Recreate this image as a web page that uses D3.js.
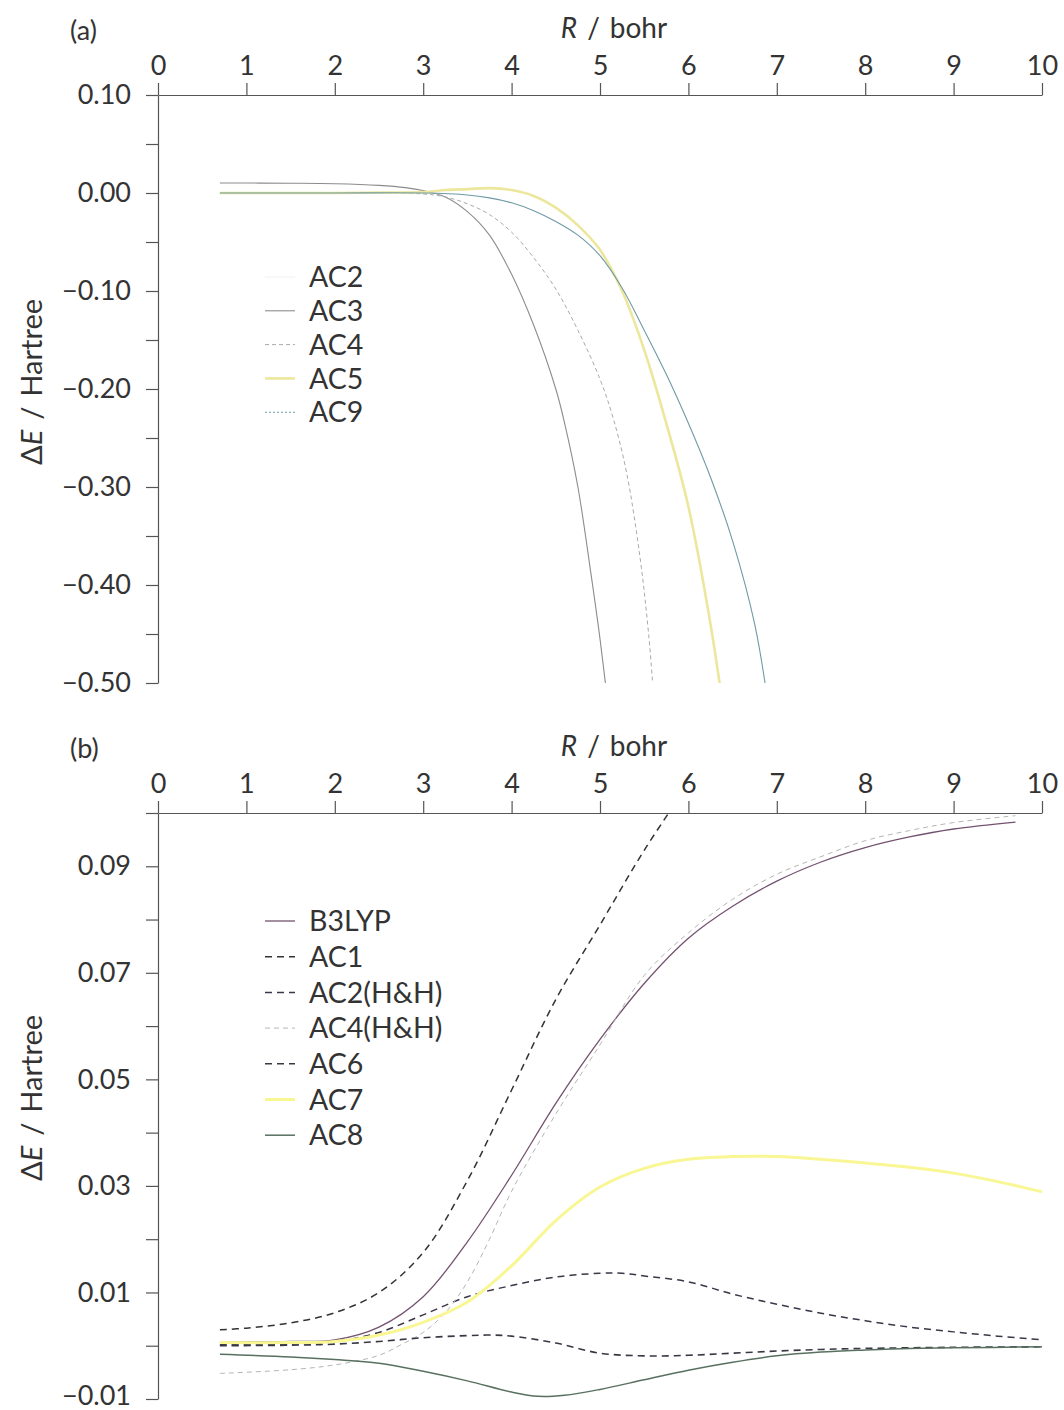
<!DOCTYPE html>
<html>
<head>
<meta charset="utf-8">
<script src="https://cdn.jsdelivr.net/npm/d3@7"></script>
<style>
  body { margin: 0; background: #fff; }
  svg { font-family: Lato, "DejaVu Sans", sans-serif; }
  .axis text { font-size: 27px; fill: #333; font-family: Lato, sans-serif; }
  .axis path, .axis line { stroke: #555; stroke-width: 1.2; }
</style>
</head>
<body>
<svg width="1064" height="1410"></svg>
<script>
// ---- data ----
var rTicks = [0, 1, 2, 3, 4, 5, 6, 7, 8, 9, 10];

// panel (a)
var aTicks = [0.10, 0.05, 0.00, -0.05, -0.10, -0.15, -0.20, -0.25, -0.30, -0.35, -0.40, -0.45, -0.50];
var aLabels = [0.10, 0.00, -0.10, -0.20, -0.30, -0.40, -0.50];

var ac2R = [0.7, 2.0, 3.0];
var ac2E = [0.0, 0.0, 0.0];
var ac3R = [0.7, 1.5, 2.0, 2.5, 2.8, 3.0, 3.25, 3.5, 3.75, 4.0, 4.25, 4.5, 4.6, 4.75, 4.9, 5.0, 5.1];
var ac3E = [0.0102, 0.0100, 0.0095, 0.0078, 0.0055, 0.0025, -0.004, -0.019, -0.043, -0.083, -0.135, -0.200, -0.235, -0.30, -0.39, -0.455, -0.53];
var ac4R = [0.7, 2.0, 2.5, 3.0, 3.25, 3.5, 3.75, 4.0, 4.25, 4.5, 4.75, 5.0, 5.15, 5.3, 5.45, 5.55, 5.62];
var ac4E = [0.0, 0.0, 0.0, -0.001, -0.004, -0.011, -0.022, -0.040, -0.066, -0.098, -0.14, -0.19, -0.23, -0.285, -0.37, -0.45, -0.53];
var ac5R = [0.7, 2.0, 2.5, 3.0, 3.25, 3.5, 3.75, 4.0, 4.25, 4.5, 4.75, 5.0, 5.25, 5.5, 5.75, 6.0, 6.25, 6.4];
var ac5E = [0.0, 0.0, 0.0005, 0.001, 0.003, 0.004, 0.005, 0.003, -0.003, -0.015, -0.033, -0.058, -0.100, -0.16, -0.235, -0.32, -0.44, -0.53];
var ac9R = [0.7, 2.0, 3.0, 3.5, 3.75, 4.0, 4.25, 4.5, 4.75, 5.0, 5.25, 5.5, 5.75, 6.0, 6.25, 6.5, 6.75, 6.9];
var ac9E = [0.0, 0.0, 0.0, -0.002, -0.005, -0.010, -0.018, -0.029, -0.043, -0.064, -0.097, -0.14, -0.185, -0.235, -0.29, -0.355, -0.44, -0.52];

// panel (b)
var bTicks = [0.10, 0.09, 0.08, 0.07, 0.06, 0.05, 0.04, 0.03, 0.02, 0.01, 0.00, -0.01];
var bLabels = [0.09, 0.07, 0.05, 0.03, 0.01, -0.01];

var b3lypR = [0.7, 1.0, 1.5, 2.0, 2.5, 3.0, 3.5, 4.0, 4.5, 5.0, 5.5, 6.0, 6.5, 7.0, 7.5, 8.0, 8.5, 9.0, 9.7];
var b3lypE = [0.0007, 0.0007, 0.0008, 0.0011, 0.0035, 0.0092, 0.0195, 0.032, 0.0455, 0.0575, 0.068, 0.0765, 0.0825, 0.0872, 0.0908, 0.0935, 0.0955, 0.0970, 0.0983];
var ac1R = [0.7, 1.0, 1.5, 2.0, 2.5, 3.0, 3.5, 4.0, 4.5, 5.0, 5.5, 5.9];
var ac1E = [0.0030, 0.0033, 0.0043, 0.0062, 0.0100, 0.0175, 0.031, 0.048, 0.065, 0.079, 0.093, 0.103];
var ac2hhR = [0.7, 1.5, 2.0, 2.5, 3.0, 3.5, 4.0, 4.5, 5.0, 5.25, 5.5, 6.0, 6.5, 7.0, 7.5, 8.0, 8.5, 9.0, 9.5, 10.0];
var ac2hhE = [0.0002, 0.0003, 0.0008, 0.0025, 0.0058, 0.0092, 0.0113, 0.0129, 0.0136, 0.0136, 0.0131, 0.0120, 0.0097, 0.0078, 0.0061, 0.0047, 0.0035, 0.0026, 0.0018, 0.0011];
var ac4hhR = [0.7, 1.5, 2.0, 2.5, 2.75, 3.0, 3.25, 3.5, 3.75, 4.0, 4.5, 5.0, 5.5, 6.0, 6.5, 7.0, 7.5, 8.0, 8.5, 9.0, 9.7];
var ac4hhE = [-0.0052, -0.0045, -0.0036, -0.0018, 0.0002, 0.0025, 0.0062, 0.012, 0.020, 0.029, 0.0435, 0.0565, 0.0695, 0.0775, 0.0838, 0.0885, 0.0918, 0.0948, 0.0967, 0.0982, 0.0995];
var ac6R = [0.7, 1.5, 2.0, 2.5, 3.0, 3.5, 3.75, 4.0, 4.5, 5.0, 5.5, 6.0, 6.5, 7.0, 7.5, 8.0, 9.0, 10.0];
var ac6E = [0.0, 0.0001, 0.0003, 0.0008, 0.0015, 0.0019, 0.0020, 0.0018, 0.0005, -0.0014, -0.0019, -0.0018, -0.0014, -0.0010, -0.0007, -0.0005, -0.0003, -0.0002];
var ac7R = [0.7, 1.5, 2.0, 2.5, 3.0, 3.5, 4.0, 4.5, 5.0, 5.5, 6.0, 6.5, 7.0, 7.5, 8.0, 8.5, 9.0, 9.5, 10.0];
var ac7E = [0.0006, 0.0006, 0.0008, 0.0020, 0.0044, 0.0082, 0.0150, 0.0235, 0.0298, 0.0333, 0.0350, 0.0355, 0.0355, 0.0350, 0.0343, 0.0335, 0.0324, 0.0308, 0.0289];
var ac8R = [0.7, 1.5, 2.0, 2.5, 3.0, 3.5, 4.0, 4.3, 4.6, 5.0, 5.5, 6.0, 6.5, 7.0, 7.5, 8.0, 8.5, 9.0, 10.0];
var ac8E = [-0.0016, -0.0021, -0.0026, -0.0033, -0.0048, -0.0066, -0.0087, -0.0095, -0.0093, -0.0082, -0.0064, -0.0046, -0.0031, -0.0019, -0.0012, -0.0008, -0.0005, -0.0004, -0.0002];

var svg = d3.select("svg");

function zip(r, e) { return r.map(function(v, i) { return [v, e[i]]; }); }

function drawPanel(p) {
  var x = d3.scaleLinear().domain([0, 10]).range([158, 1042]);
  var y = d3.scaleLinear().domain(p.yDomain).range(p.yRange);
  var g = svg.append("g");

  g.append("clipPath").attr("id", p.id + "clip")
    .append("rect")
    .attr("x", x(0)).attr("y", y.range()[0])
    .attr("width", x(10) - x(0)).attr("height", y.range()[1] - y.range()[0]);

  // curves
  var line = d3.line()
    .x(function(d) { return x(d[0]); })
    .y(function(d) { return y(d[1]); })
    .curve(d3.curveCatmullRom.alpha(0.5));

  g.append("g").attr("clip-path", "url(#" + p.id + "clip)")
    .selectAll("path")
    .data(p.series)
    .enter().append("path")
    .attr("d", function(d) { return line(zip(d.r, d.e)); })
    .attr("fill", "none")
    .attr("stroke", function(d) { return d.color; })
    .attr("stroke-width", function(d) { return d.width; })
    .attr("stroke-dasharray", function(d) { return d.dash; });

  // top axis
  g.append("g").attr("class", "axis")
    .attr("transform", "translate(0," + y.range()[0] + ")")
    .call(d3.axisTop(x).tickValues(rTicks).tickSize(12).tickSizeOuter(0).tickPadding(8)
      .tickFormat(d3.format("d")));

  // left axis, labels only on some ticks
  var fmt = d3.format(".2f");
  var yax = g.append("g").attr("class", "axis")
    .attr("transform", "translate(" + x(0) + ",0)")
    .call(d3.axisLeft(y).tickValues(p.yTicks).tickSize(12).tickSizeOuter(0).tickPadding(15)
      .tickFormat(function(d) {
        return p.yLabels.some(function(v) { return Math.abs(v - d) < 1e-9; }) ? fmt(d) : "";
      }));
  // keep the lowest label inside the page
  yax.selectAll(".tick text").filter(function(d) { return y(d) > 1390; }).attr("dy", "0.2em");

  var top = y.range()[0];
  g.append("text").attr("x", 70).attr("y", top - 55)
    .attr("font-size", 27).attr("fill", "#333").text(p.tag);

  var xt = g.append("text").attr("x", 614).attr("y", top - 57)
    .attr("text-anchor", "middle").attr("font-size", 28).attr("fill", "#333");
  xt.append("tspan").attr("font-style", "italic").text("R");
  xt.append("tspan").attr("dx", 10).text("/");
  xt.append("tspan").attr("dx", 10).text("bohr");

  var yt = g.append("text")
    .attr("transform", "translate(42," + p.yTitleY + ") rotate(-90)")
    .attr("text-anchor", "middle").attr("font-size", 29).attr("fill", "#333");
  yt.append("tspan").text("Δ");
  yt.append("tspan").attr("font-style", "italic").text("E");
  yt.append("tspan").attr("dx", 10).text("/");
  yt.append("tspan").attr("dx", 10).text("Hartree");

  // legend
  var leg = g.selectAll(".leg")
    .data(p.series)
    .enter().append("g")
    .attr("transform", function(d, i) { return "translate(0," + (p.legY + i * p.legStep) + ")"; });
  leg.append("line")
    .attr("x1", 265).attr("x2", 295)
    .attr("stroke", function(d) { return d.color; })
    .attr("stroke-width", function(d) { return d.width; })
    .attr("stroke-dasharray", function(d) { return d.legDash || d.dash; });
  leg.append("text")
    .attr("x", 309).attr("dy", "0.36em")
    .attr("font-size", 28.5).attr("fill", "#333")
    .text(function(d) { return d.name; });
}

drawPanel({
  id: "a", tag: "(a)",
  yDomain: [0.10, -0.50], yRange: [95, 683],
  yTicks: aTicks, yLabels: aLabels, yTitleY: 382,
  legY: 277, legStep: 33.8,
  series: [
    { name: "AC2", r: ac2R, e: ac2E, color: "#f0f0f0", width: 1, dash: null },
    { name: "AC3", r: ac3R, e: ac3E, color: "#8c8c8c", width: 1.1, dash: null },
    { name: "AC4", r: ac4R, e: ac4E, color: "#aaaaaa", width: 1, dash: "4,3" },
    { name: "AC5", r: ac5R, e: ac5E, color: "#ece79c", width: 2.6, dash: null },
    { name: "AC9", r: ac9R, e: ac9E, color: "#6f9aa6", width: 1.1, dash: null, legDash: "2,2" }
  ]
});

drawPanel({
  id: "b", tag: "(b)",
  yDomain: [0.10, -0.01], yRange: [813, 1399],
  yTicks: bTicks, yLabels: bLabels, yTitleY: 1098,
  legY: 921, legStep: 35.7,
  series: [
    { name: "B3LYP", r: b3lypR, e: b3lypE, color: "#73526f", width: 1.3, dash: null },
    { name: "AC1", r: ac1R, e: ac1E, color: "#333333", width: 1.5, dash: "7,5" },
    { name: "AC2(H&H)", r: ac2hhR, e: ac2hhE, color: "#3d3548", width: 1.5, dash: "7,5" },
    { name: "AC4(H&H)", r: ac4hhR, e: ac4hhE, color: "#b5b5b5", width: 1, dash: "5,4" },
    { name: "AC6", r: ac6R, e: ac6E, color: "#383844", width: 1.6, dash: "7,5" },
    { name: "AC7", r: ac7R, e: ac7E, color: "#f9f694", width: 3, dash: null },
    { name: "AC8", r: ac8R, e: ac8E, color: "#587060", width: 1.5, dash: null }
  ]
});
</script>
</body>
</html>
